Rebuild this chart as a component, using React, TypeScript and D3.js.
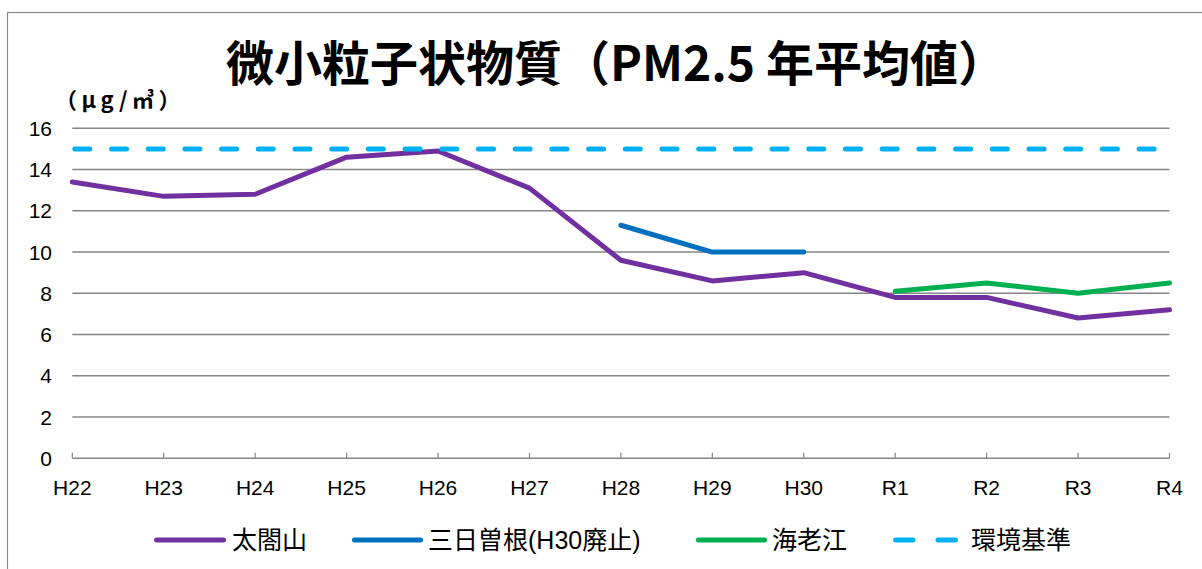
import * as d3 from 'd3'

const years = ['H22', 'H23', 'H24', 'H25', 'H26', 'H27', 'H28', 'H29', 'H30', 'R1', 'R2', 'R3', 'R4']
const taikouyama = [13.4, 12.7, 12.8, 14.6, 14.9, 13.1, 9.6, 8.6, 9.0, 7.8, 7.8, 6.8, 7.2]
const mikkasone = [null, null, null, null, null, null, 11.3, 10.0, 10.0, null, null, null, null]
const ebie = [null, null, null, null, null, null, null, null, null, 8.1, 8.5, 8.0, 8.5]
const standard = [15, 15, 15, 15, 15, 15, 15, 15, 15, 15, 15, 15, 15]
const yTicks = [0, 2, 4, 6, 8, 10, 12, 14, 16]

const series = [
  { name: '太閤山', values: taikouyama, color: '#7030A0', dash: null },
  { name: '三日曽根(H30廃止)', values: mikkasone, color: '#0070C0', dash: null },
  { name: '海老江', values: ebie, color: '#00B050', dash: null },
  { name: '環境基準', values: standard, color: '#00B0F0', dash: '15 21.7' },
]

const W = 1202
const H = 569
const LATIN = '"Liberation Sans", Arial, "Noto Sans CJK JP", sans-serif'
const CJK = '"Noto Sans CJK JP", "Liberation Sans", sans-serif'

export default function App() {
  const x = d3.scalePoint<string>().domain(years).range([72.3, 1169.5])
  const y = d3.scaleLinear().domain([0, 16]).range([458.3, 128.3])

  const line = d3
    .line<number | null>()
    .defined(d => d != null)
    .x((_, i) => x(years[i]) as number)
    .y(d => y(d as number))

  // legend slots: line start, line end, text start
  const legendX = [
    [154, 226, 232],
    [352, 423, 428],
    [696, 767, 772],
    [893, 958, 971],
  ]
  const legendY = 540

  return (
    <svg
      width={W}
      height={H}
      style={{ position: 'absolute', left: 0, top: 0, background: '#fff' }}
    >
      <rect x={7.5} y={12.5} width={1220} height={600} fill="#fff" stroke="#8a8a8a" strokeWidth={1.2} />

      {/* title */}
      <text
        x={616}
        y={81}
        textAnchor="middle"
        fontFamily={CJK}
        fontWeight="bold"
        fontSize={48}
        fill="#000"
      >
        微小粒子状物質（PM2.5 年平均値）
      </text>

      {/* unit */}
      <text
        x={55}
        y={108}
        fontFamily={CJK}
        fontWeight="bold"
        fontSize={22}
        letterSpacing={4.5}
        fill="#000"
      >
        （μg/㎥）
      </text>

      {/* gridlines */}
      {yTicks.filter(t => t > 0).map(t => (
        <line
          key={t}
          x1={x('H22')}
          x2={x('R4')}
          y1={y(t)}
          y2={y(t)}
          stroke="#868686"
          strokeWidth={1.4}
        />
      ))}

      {/* y labels */}
      {yTicks.map(t => (
        <text
          key={t}
          x={52}
          y={y(t)}
          dy="0.36em"
          textAnchor="end"
          fontFamily={LATIN}
          fontSize={21}
          fill="#000"
        >
          {t}
        </text>
      ))}

      {/* x axis */}
      <line x1={x('H22')} x2={x('R4')} y1={y(0)} y2={y(0)} stroke="#868686" strokeWidth={1.4} />
      {years.map(c => (
        <g key={c}>
          <line
            x1={x(c)}
            x2={x(c)}
            y1={y(0)}
            y2={y(0) - 5.5}
            stroke="#868686"
            strokeWidth={1.2}
          />
          <text
            x={x(c)}
            y={495}
            textAnchor="middle"
            fontFamily={LATIN}
            fontSize={21}
            fill="#000"
          >
            {c}
          </text>
        </g>
      ))}

      {/* series */}
      {series.map(s => (
        <path
          key={s.name}
          d={line(s.values) ?? ''}
          fill="none"
          stroke={s.color}
          strokeWidth={5}
          strokeLinecap="round"
          strokeLinejoin="round"
          strokeDasharray={s.dash ?? undefined}
          transform={s.dash ? 'translate(2.5,0)' : undefined}
        />
      ))}

      {/* legend */}
      {series.map((s, i) => {
        const [l0, l1, tx] = legendX[i]
        return (
          <g key={s.name}>
            {s.dash ? (
              <>
                <line x1={l0 + 2.5} x2={l0 + 20} y1={legendY} y2={legendY} stroke={s.color} strokeWidth={5} strokeLinecap="round" />
                <line x1={l1 - 20} x2={l1 - 2.5} y1={legendY} y2={legendY} stroke={s.color} strokeWidth={5} strokeLinecap="round" />
              </>
            ) : (
              <line x1={l0 + 2.5} x2={l1 - 2.5} y1={legendY} y2={legendY} stroke={s.color} strokeWidth={5} strokeLinecap="round" />
            )}
            <text
              x={tx}
              y={legendY}
              dy="0.36em"
              fontFamily={LATIN}
              fontSize={25}
              fill="#000"
            >
              {s.name}
            </text>
          </g>
        )
      })}
    </svg>
  )
}
